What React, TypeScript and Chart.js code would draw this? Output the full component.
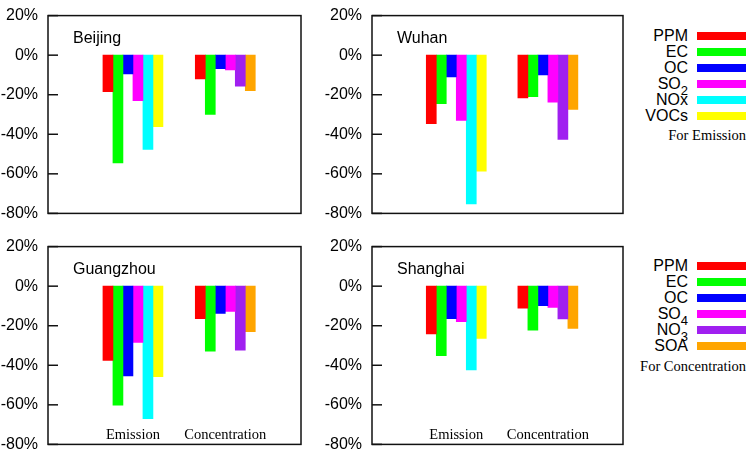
import React, { useEffect, useRef } from 'react';
import { Chart, registerables } from 'chart.js';
Chart.register(...registerables);

const groups = ['Emission', 'Concentration'];
const emissionSpecies = ['PPM', 'EC', 'OC', 'SO2', 'NOx', 'VOCs'];
const concentrationSpecies = ['PPM', 'EC', 'OC', 'SO4', 'NO3', 'SOA'];
const emissionColors = ['#ff0000', '#00ff00', '#0000ff', '#ff00ff', '#00ffff', '#ffff00'];
const concentrationColors = ['#ff0000', '#00ff00', '#0000ff', '#ff00ff', '#a020f0', '#ffa500'];

const beijingEmission = [-18.5, -54.5, -9.5, -23, -47.7, -36.2];
const beijingConcentration = [-12, -30, -6.8, -7.5, -15.7, -18];
const wuhanEmission = [-34.6, -24.5, -11, -33, -75.2, -58.7];
const wuhanConcentration = [-21.6, -21, -10, -23.8, -42.6, -27.4];
const guangzhouEmission = [-37.6, -60.2, -45.4, -28.5, -67, -45.7];
const guangzhouConcentration = [-16.4, -32.9, -13.8, -12.8, -32.4, -23];
const shanghaiEmission = [-24.2, -35.2, -16.4, -18, -42.3, -26.4];
const shanghaiConcentration = [-11.1, -22.2, -9.9, -10.7, -16.6, -21.4];

const panelPlugin = {
  id: 'panelDeco',
  afterDatasetsDraw(chart: any, _args: any, opts: any) {
    const { ctx, chartArea: a, scales } = chart;
    ctx.save();
    ctx.strokeStyle = '#111';
    ctx.lineWidth = 1.5;
    scales.y.ticks.forEach((t: any) => {
      const py = scales.y.getPixelForValue(t.value);
      ctx.beginPath();
      ctx.moveTo(a.left, py);
      ctx.lineTo(a.left + 10, py);
      ctx.stroke();
    });
    ctx.strokeRect(a.left, a.top, a.right - a.left, a.bottom - a.top);
    ctx.fillStyle = '#000';
    ctx.font = '16px "Liberation Sans", Arial, sans-serif';
    ctx.textBaseline = 'middle';
    ctx.textAlign = 'left';
    ctx.fillText(opts.title, a.left + 25, a.top + 23);
    if (opts.showGroups) {
      ctx.font = '14.5px "Liberation Serif", "Times New Roman", serif';
      ctx.textAlign = 'center';
      groups.forEach((g, i) => {
        ctx.fillText(g, scales.x.getPixelForValue(i + 1), a.bottom - 9);
      });
    }
    ctx.restore();
  },
};

type PanelProps = {
  name: string;
  emission: number[];
  concentration: number[];
  left: number;
  top: number;
  width: number;
  showGroups: boolean;
};

function Panel({ name, emission, concentration, left, top, width, showGroups }: PanelProps) {
  const ref = useRef<HTMLCanvasElement | null>(null);
  useEffect(() => {
    if (!ref.current) return;
    const datasets = emissionSpecies.map((sp, i) => ({
      label: sp + ' / ' + concentrationSpecies[i],
      data: [
        { x: 1, y: emission[i] },
        { x: 2, y: concentration[i] },
      ],
      backgroundColor: [emissionColors[i], concentrationColors[i]],
      borderWidth: 0,
      barThickness: 10,
    }));
    const chart = new Chart(ref.current, {
      type: 'bar',
      data: { datasets },
      plugins: [panelPlugin],
      options: {
        responsive: false,
        animation: false,
        layout: { padding: { top: 12, bottom: 12, left: 0, right: 2 } },
        plugins: {
          legend: { display: false },
          tooltip: { enabled: false },
          panelDeco: { title: name, showGroups },
        } as any,
        scales: {
          x: {
            type: 'linear',
            min: 0.08,
            max: 2.82,
            offset: false,
            display: false,
          },
          y: {
            min: -80,
            max: 20,
            grid: { display: false, drawTicks: false },
            border: { display: false },
            afterFit: (s: any) => {
              s.width = 48;
            },
            ticks: {
              stepSize: 20,
              padding: 10,
              color: '#000',
              font: { family: '"Liberation Sans", Arial, sans-serif', size: 16 },
              callback: (v: any) => v + '%',
            },
          },
        },
      } as any,
    });
    return () => chart.destroy();
  }, [name, emission, concentration, showGroups]);
  return (
    <canvas
      ref={ref}
      width={width}
      height={237}
      style={{ position: 'absolute', left, top, width, height: 237 }}
    />
  );
}

function Label({ text }: { text: string }) {
  const m = text.match(/^(.*?)(\d)$/);
  if (m) {
    return (
      <span>
        {m[1]}
        <span style={{ fontSize: 13, position: 'relative', top: 6 }}>{m[2]}</span>
      </span>
    );
  }
  return <span>{text}</span>;
}

function Legend({ species, colors, centers, caption, captionY }: { species: string[]; colors: string[]; centers: number[]; caption: string; captionY: number }) {
  return (
    <>
      {species.map((sp, i) => (
        <React.Fragment key={sp + i}>
          <div
            style={{
              position: 'absolute',
              right: 750 - 688,
              top: centers[i] - 9,
              height: 18,
              lineHeight: '18px',
              fontFamily: '"Liberation Sans", Arial, sans-serif',
              fontSize: 16,
              color: '#000',
              whiteSpace: 'nowrap',
              textAlign: 'right',
            }}
          >
            <Label text={sp} />
          </div>
          <div
            style={{
              position: 'absolute',
              left: 697,
              top: centers[i] - 4,
              width: 49,
              height: 8,
              background: colors[i],
            }}
          />
        </React.Fragment>
      ))}
      <div
        style={{
          position: 'absolute',
          right: 4,
          top: captionY - 9,
          height: 18,
          lineHeight: '18px',
          fontFamily: '"Liberation Serif", "Times New Roman", serif',
          fontSize: 14.5,
          color: '#000',
          whiteSpace: 'nowrap',
        }}
      >
        {caption}
      </div>
    </>
  );
}

export default function App() {
  return (
    <div style={{ position: 'absolute', left: 0, top: 0, width: 750, height: 460, background: '#fff', overflow: 'hidden' }}>
      <Panel name="Beijing" emission={beijingEmission} concentration={beijingConcentration} left={0} top={-4} width={303} showGroups={false} />
      <Panel name="Wuhan" emission={wuhanEmission} concentration={wuhanConcentration} left={324} top={-4} width={301} showGroups={false} />
      <Panel name="Guangzhou" emission={guangzhouEmission} concentration={guangzhouConcentration} left={0} top={227} width={303} showGroups={true} />
      <Panel name="Shanghai" emission={shanghaiEmission} concentration={shanghaiConcentration} left={324} top={227} width={301} showGroups={true} />
      <Legend species={emissionSpecies} colors={emissionColors} centers={[36, 52, 68, 84, 100, 116]} caption="For Emission" captionY={135} />
      <Legend species={concentrationSpecies} colors={concentrationColors} centers={[265.7, 281.7, 298, 313.5, 330, 346]} caption="For Concentration" captionY={366} />
    </div>
  );
}
